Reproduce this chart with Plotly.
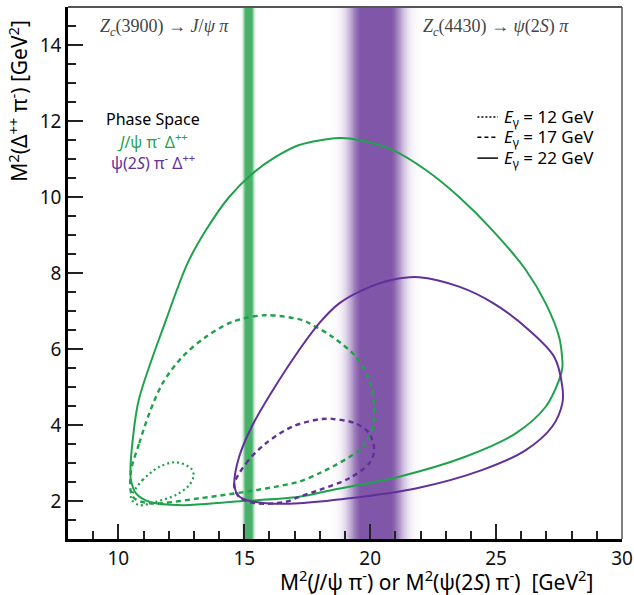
import numpy as np
import plotly.graph_objects as go

# ---------------- data ----------------
# Dalitz-plot boundaries: x = M^2(V pi), y = M^2(Delta pi)
jpsi_22_x = [10.48, 10.57, 10.81, 11.89, 12.75, 13.48, 14.40, 15.33, 16.26, 17.18, 18.77, 19.56, 20.88,
             22.21, 23.53, 24.85, 26.18, 26.97, 27.50, 27.63, 27.63, 27.50, 26.97, 25.78, 23.80, 21.15,
             18.50, 17.18, 14.54, 12.55, 11.23, 10.70, 10.50, 10.48]
jpsi_22_y = [2.82, 3.61, 4.66, 6.76, 8.26, 9.13, 10.00, 10.62, 11.06, 11.37, 11.55, 11.50, 11.24,
             10.71, 10.00, 9.13, 8.08, 7.20, 6.32, 5.71, 5.50, 5.18, 4.48, 3.78, 3.17, 2.64,
             2.29, 2.11, 1.98, 1.89, 1.98, 2.20, 2.55, 2.82]

jpsi_17_x = [10.50, 10.83, 11.23, 11.76, 12.55, 13.48, 14.54, 15.86, 17.31, 17.71, 18.50, 19.43, 19.96,
             20.16, 20.03, 19.56, 18.50, 17.98, 17.18, 15.86, 13.21, 11.23, 10.57, 10.50]
jpsi_17_y = [2.77, 3.52, 4.31, 5.10, 5.80, 6.32, 6.72, 6.89, 6.76, 6.63, 6.32, 5.80, 5.18,
             4.48, 3.78, 3.34, 2.90, 2.73, 2.51, 2.33, 2.07, 1.94, 2.11, 2.77]

jpsi_12_x = [10.50, 10.96, 11.63, 12.29, 12.88, 12.99, 12.82, 12.29, 11.50, 10.83, 10.53, 10.50]
jpsi_12_y = [2.11, 2.55, 2.90, 3.02, 2.86, 2.68, 2.42, 2.16, 1.98, 1.89, 2.03, 2.11]

psi2s_22_x = [14.60, 14.80, 15.33, 16.12, 17.05, 17.98, 18.77, 19.70, 20.88, 21.94, 23.53, 24.90,
              26.30, 27.30, 27.63, 27.63, 27.23, 26.18, 24.46, 21.81, 19.17, 17.18, 15.86, 15.07,
              14.73, 14.63, 14.60]
psi2s_22_y = [2.47, 3.17, 4.00, 4.90, 5.85, 6.68, 7.20, 7.55, 7.82, 7.89, 7.64, 7.20,
              6.50, 5.80, 5.01, 4.57, 3.96, 3.34, 2.82, 2.33, 2.07, 1.94, 1.94, 2.03,
              2.16, 2.33, 2.47]

psi2s_17_x = [14.60, 15.07, 15.86, 16.92, 17.98, 18.50, 19.43, 19.96, 20.16, 19.96, 19.17, 17.98,
              17.18, 16.65, 15.46, 14.80, 14.60]
psi2s_17_y = [2.42, 2.99, 3.52, 3.96, 4.15, 4.16, 4.04, 3.78, 3.34, 2.99, 2.60, 2.29,
              2.11, 1.98, 1.94, 2.11, 2.42]

# Z_c bands: mass^2 centre, flat half-width and edge softness (GeV^2)
band_names = ["Zc(3900)", "Zc(4430)"]
band_centers = [15.17, 20.22]
band_core = [0.11, 0.55]
band_edge = [0.10, 0.55]

x_ticks = [10, 15, 20, 25, 30]
y_ticks = [2, 4, 6, 8, 10, 12, 14]
legend_labels = ["<i>E</i><sub>γ</sub> = 12 GeV", "<i>E</i><sub>γ</sub> = 17 GeV", "<i>E</i><sub>γ</sub> = 22 GeV"]

# ---------------- style ----------------
GREEN = "#1fa24c"
PURPLE = "#62309a"
BAND_GREEN = "rgb(72,176,104)"
BAND_PURPLE = "rgb(128,86,168)"
SANS = "Noto Sans"
SERIF = "Liberation Serif"

fig = go.Figure()

# bands as smooth heatmaps
band_colors = [BAND_GREEN, BAND_PURPLE]
for c, core, edge, col in zip(band_centers, band_core, band_edge, band_colors):
    span = core + 3.0 * edge
    bx = np.linspace(c - span, c + span, 241)
    d = np.clip(np.abs(bx - c) - core, 0, None)
    prof = np.exp(-(d / edge) ** 2)
    fig.add_trace(go.Heatmap(
        x=bx, y=[1, 15], z=[prof, prof], zmin=0, zmax=1, zsmooth="best",
        colorscale=[[0, "rgb(255,255,255)"], [1, col]], showscale=False, hoverinfo="skip"))

curves = [
    (jpsi_12_x, jpsi_12_y, GREEN, "dot", 2.2),
    (jpsi_17_x, jpsi_17_y, GREEN, "dash", 2.4),
    (jpsi_22_x, jpsi_22_y, GREEN, "solid", 2.0),
    (psi2s_17_x, psi2s_17_y, PURPLE, "dash", 2.4),
    (psi2s_22_x, psi2s_22_y, PURPLE, "solid", 2.0),
]
dash_map = {"dot": "2px,3px", "dash": "5px,4px", "solid": "solid"}
for xs, ys, col, d, lw in curves:
    fig.add_trace(go.Scatter(x=xs, y=ys, mode="lines",
                             line=dict(color=col, width=lw, dash=dash_map[d], shape="spline", smoothing=0.9),
                             showlegend=False, hoverinfo="skip"))

axis_common = dict(showgrid=False, zeroline=False, showline=True, linecolor="black", linewidth=2.5,
                   ticks="inside", ticklen=15, tickwidth=2, tickcolor="#222", automargin=False,
                   tickfont=dict(family=SANS, size=19, color="#111"))

fig.update_xaxes(range=[8, 30], tickvals=x_ticks, ticktext=[str(t) for t in x_ticks],
                 minor=dict(dtick=1, tick0=0, ticks="inside", ticklen=8, tickwidth=1.5, tickcolor="#222"),
                 **axis_common)
fig.update_yaxes(range=[1, 15], tickvals=y_ticks, ticktext=[str(t) for t in y_ticks],
                 minor=dict(dtick=0.5, tick0=0, ticks="inside", ticklen=8, tickwidth=1.5, tickcolor="#222"),
                 **axis_common)

# top/right frame in grey
fig.add_shape(type="line", xref="paper", yref="paper", x0=0, x1=1, y0=1, y1=1, line=dict(color="#555", width=2))
fig.add_shape(type="line", xref="paper", yref="paper", x0=1, x1=1, y0=0, y1=1, line=dict(color="#555", width=1.5))

# legend (manual, black samples)
leg_rows = [0.793, 0.755, 0.716]
leg_dash = ["2px,2px", "4px,3px", "solid"]
for yy, dsh, lab in zip(leg_rows, leg_dash, legend_labels):
    fig.add_shape(type="line", xref="paper", yref="paper", x0=0.739, x1=0.776, y0=yy, y1=yy,
                  line=dict(color="black", width=1.5, dash=dsh))
    fig.add_annotation(xref="paper", yref="paper", x=0.784, y=yy, text=lab, showarrow=False,
                       xanchor="left", yanchor="middle", font=dict(family=SANS, size=17, color="black"))

# phase-space labels
for yy, txt, col in [(0.789, "Phase Space", "black"),
                     (0.749, "<i>J</i>/ψ π<sup>-</sup> Δ<sup>++</sup>", GREEN),
                     (0.709, "ψ(2<i>S</i>) π<sup>-</sup> Δ<sup>++</sup>", PURPLE)]:
    fig.add_annotation(xref="paper", yref="paper", x=0.153, y=yy, text=txt, showarrow=False,
                       xanchor="center", yanchor="middle", font=dict(family=SANS, size=16, color=col))

# Zc labels
fig.add_annotation(xref="paper", yref="paper", x=0.175, y=0.962,
                   text="<i>Z<sub>c</sub></i>(3900) → <i>J</i>/<i>ψ</i> <i>π</i>", showarrow=False,
                   xanchor="center", yanchor="middle", font=dict(family=SERIF, size=18, color="#444"))
fig.add_annotation(xref="paper", yref="paper", x=0.773, y=0.962,
                   text="<i>Z<sub>c</sub></i>(4430) → <i>ψ</i>(2<i>S</i>) <i>π</i>", showarrow=False,
                   xanchor="center", yanchor="middle", font=dict(family=SERIF, size=18, color="#444"))

# axis titles
fig.add_annotation(xref="paper", yref="paper", x=0.665, y=-0.078,
                   text="M<sup>2</sup>(<i>J</i>/ψ π<sup>-</sup>) or M<sup>2</sup>(ψ(2<i>S</i>) π<sup>-</sup>)&nbsp;&nbsp;[GeV<sup>2</sup>]",
                   showarrow=False, xanchor="center", yanchor="middle",
                   font=dict(family=SANS, size=21, color="black"))
fig.add_annotation(xref="paper", yref="paper", x=-0.090, y=0.824, textangle=-90,
                   text="M<sup>2</sup>(Δ<sup>++</sup> π<sup>-</sup>) [GeV<sup>2</sup>]",
                   showarrow=False, xanchor="center", yanchor="middle",
                   font=dict(family=SANS, size=21, color="black"))

fig.update_layout(width=634, height=595, margin=dict(l=68, r=12, t=7, b=56, autoexpand=False),
                  plot_bgcolor="white", paper_bgcolor="white", showlegend=False)

fig.write_html("out.html", config={"displayModeBar": False},
               post_script="document.body.style.margin='0';document.body.style.overflow='hidden';")
